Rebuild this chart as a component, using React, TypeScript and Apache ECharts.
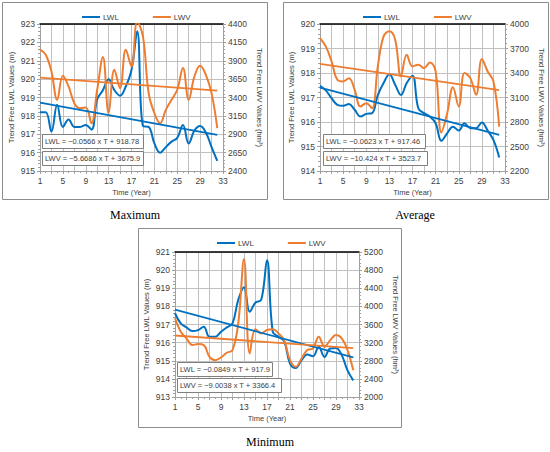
import React, { useEffect, useRef } from "react";
import * as echarts from "echarts";

const years = [1, 2, 3, 4, 5, 6, 7, 8, 9, 10, 11, 12, 13, 14, 15, 16, 17, 18, 19, 20, 21, 22, 23, 24, 25, 26, 27, 28, 29, 30, 31, 32];
const trendYears = [1, 32];

// Maximum
const maxLWL = [918.2, 918.2, 917.15, 918.6, 917.4, 917.8, 917.4, 917.4, 917.5, 917.25, 918.9, 919.4, 920.0, 919.4, 919.1, 919.6, 920.5, 922.6, 917.45, 917.4, 916.5, 916.0, 916.3, 916.6, 916.8, 917.5, 916.5, 917.2, 917.45, 917.1, 916.3, 915.55];
const maxLWV = [4050, 3982, 3755, 3368, 3695, 3550, 3323, 3255, 3264, 3050, 3505, 3950, 3186, 3777, 3527, 4050, 3823, 4430, 4232, 3459, 3186, 3050, 3232, 3368, 3505, 3800, 3368, 3686, 3832, 3709, 3459, 2982];
const maxLWLTrend = [918.72, 916.97];
const maxLWVTrend = [3670, 3494];

// Average
const avgLWL = [917.48, 917.29, 916.97, 916.7, 916.66, 916.73, 916.5, 916.22, 916.33, 916.36, 917.1, 917.59, 917.95, 917.52, 917.1, 917.59, 917.89, 916.56, 916.36, 916.22, 915.95, 915.23, 915.54, 915.81, 915.65, 915.95, 915.75, 915.75, 915.98, 915.65, 915.27, 914.55];
const avgLWV = [3828, 3726, 3542, 3317, 3297, 3337, 3194, 2990, 3031, 2969, 3481, 3849, 3910, 3808, 3358, 3624, 3481, 3501, 3460, 3530, 3419, 2671, 2908, 3227, 2990, 3399, 3337, 3133, 3571, 3419, 3297, 2744];
const avgLWLTrend = [917.4, 915.47];
const avgLWVTrend = [3513, 3190];

// Minimum
const minLWL = [917.62, 917.06, 916.84, 916.64, 916.69, 916.88, 916.32, 916.32, 916.6, 916.84, 917.06, 918.36, 919.06, 917.71, 918.21, 918.36, 920.54, 916.6, 916.32, 916.05, 914.84, 914.6, 915.03, 915.34, 915.25, 915.77, 915.21, 915.68, 915.71, 915.31, 914.47, 913.92];
const minLWV = [3737, 3441, 3293, 3146, 3168, 3146, 2887, 2813, 2872, 2976, 3035, 3626, 5045, 2961, 3493, 3404, 3478, 3493, 3404, 3242, 2813, 2665, 2850, 3035, 3072, 3330, 3109, 3256, 3367, 3293, 3035, 2591];
const minLWLTrend = [917.82, 915.18];
const minLWVTrend = [3357, 3078];

const captions = ["Maximum", "Average", "Minimum"];
const equationsLWL = ["LWL = \u22120.0566 x T + 918.78", "LWL = \u22120.0623 x T + 917.46", "LWL = \u22120.0849 x T + 917.9"];
const equationsLWV = ["LWV = \u22125.6686 x T + 3675.9", "LWV = \u221210.424 x T + 3523.7", "LWV = \u22129.0038 x T + 3366.4"];
const leftRanges = [[915, 923], [914, 920], [913, 921]];
const rightRanges = [[2400, 4400, 250], [2200, 4000, 300], [2000, 5200, 400]];

const BLUE = "#0070C0";
const ORANGE = "#ED7D31";
const FONT = "Liberation Sans";
const TXT = "#404040";
const AXIS = "#a0a0a0";
const GRIDC = "#c0c0c0";

const panels = [
  { lwl: maxLWL, lwv: maxLWV, lt: maxLWLTrend, vt: maxLWVTrend, grid: { left: 40, top: 24, width: 183, height: 147 }, box: [2, 2, 265, 197], cap: [135, 215], legend: [77, 8], eq: [42, 134, 151], eqw: [101, 101] },
  { lwl: avgLWL, lwv: avgLWV, lt: avgLWLTrend, vt: avgLWVTrend, grid: { left: 320, top: 24, width: 185, height: 147 }, box: [283, 2, 265, 197], cap: [415, 215], legend: [358, 8], eq: [323, 134, 151], eqw: [102, 104] },
  { lwl: minLWL, lwv: minLWV, lt: minLWLTrend, vt: minLWVTrend, grid: { left: 175, top: 252, width: 184, height: 145 }, box: [138, 228, 263, 199], cap: [270, 442], legend: [212, 234], eq: [177, 362, 378], eqw: [95, 104] },
];

export default function App() {
  const ref = useRef<HTMLDivElement>(null);
  useEffect(() => {
    document.body.style.margin = "0";
    const chart = echarts.init(ref.current!, null, { renderer: "svg" });
    const grids: any[] = [];
    const xAxes: any[] = [];
    const yAxes: any[] = [];
    const series: any[] = [];
    const legends: any[] = [];
    const graphics: any[] = [];
    panels.forEach((p, i) => {
      grids.push({ ...p.grid, containLabel: false });
      xAxes.push({
        type: "value", gridIndex: i, min: 1, max: 33, interval: 2, position: "bottom",
        name: "Time (Year)", nameLocation: "middle", nameGap: 17,
        nameTextStyle: { fontFamily: FONT, fontSize: 7.5, color: TXT },
        axisLine: { show: true, lineStyle: { color: AXIS, width: 1 } },
        axisTick: { show: true, length: 3, lineStyle: { color: AXIS } },
        minorTick: { show: true, splitNumber: 2, length: 2, lineStyle: { color: AXIS } },
        axisLabel: { fontFamily: FONT, fontSize: 8.5, color: TXT, margin: 5, formatter: (v: number) => ((v - 1) % 4 === 0 ? String(v) : "") },
        splitLine: { show: true, lineStyle: { color: GRIDC, width: 1 } },
      });
      xAxes.push({
        type: "value", gridIndex: i, min: 1, max: 33, position: "top",
        axisLine: { show: true, lineStyle: { color: "#000", width: 1.5 } },
        axisTick: { show: false }, axisLabel: { show: false }, splitLine: { show: false },
      });
      yAxes.push({
        type: "value", gridIndex: i, position: "left", min: leftRanges[i][0], max: leftRanges[i][1], interval: 1,
        name: "Trend Free LWL Values (m)", nameLocation: "middle", nameGap: 25, nameRotate: 90,
        nameTextStyle: { fontFamily: FONT, fontSize: 7.5, color: TXT },
        axisLine: { show: true, lineStyle: { color: AXIS } },
        axisTick: { show: true, length: 3, lineStyle: { color: AXIS } },
        minorTick: { show: true, splitNumber: 5, length: 2, lineStyle: { color: AXIS } },
        axisLabel: { fontFamily: FONT, fontSize: 8.5, color: TXT, margin: 5, formatter: (v: number) => String(v) },
        splitLine: { show: true, lineStyle: { color: GRIDC, width: 1 } },
      });
      yAxes.push({
        type: "value", gridIndex: i, position: "right", min: rightRanges[i][0], max: rightRanges[i][1], interval: rightRanges[i][2],
        name: "Trend Free LWV Values (hm\u00b3)", nameLocation: "middle", nameGap: 32, nameRotate: -90,
        nameTextStyle: { fontFamily: FONT, fontSize: 7.5, color: TXT },
        axisLine: { show: true, lineStyle: { color: AXIS } },
        axisTick: { show: true, length: 3, lineStyle: { color: AXIS } },
        minorTick: { show: true, splitNumber: 5, length: 2, lineStyle: { color: AXIS } },
        axisLabel: { fontFamily: FONT, fontSize: 8.5, color: TXT, margin: 5, formatter: (v: number) => String(v) },
        splitLine: { show: false },
      });
      const base = { type: "line", xAxisIndex: 2 * i, symbol: "none", silent: true };
      series.push({ ...base, name: "LWL", yAxisIndex: 2 * i, smooth: 0.4, data: years.map((y, k) => [y, p.lwl[k]]), lineStyle: { color: BLUE, width: 2 }, itemStyle: { color: BLUE } });
      series.push({ ...base, name: "LWV", yAxisIndex: 2 * i + 1, smooth: 0.4, data: years.map((y, k) => [y, p.lwv[k]]), lineStyle: { color: ORANGE, width: 2 }, itemStyle: { color: ORANGE } });
      series.push({ ...base, name: "LWL trend", yAxisIndex: 2 * i, data: trendYears.map((y, k) => [y, p.lt[k]]), lineStyle: { color: BLUE, width: 1.8 }, itemStyle: { color: BLUE } });
      series.push({ ...base, name: "LWV trend", yAxisIndex: 2 * i + 1, data: trendYears.map((y, k) => [y, p.vt[k]]), lineStyle: { color: ORANGE, width: 1.8 }, itemStyle: { color: ORANGE } });
      legends.push({
        data: ["LWL", "LWV"], left: p.legend[0], top: p.legend[1], icon: "rect", itemWidth: 18, itemHeight: 2, itemGap: 34,
        textStyle: { fontFamily: FONT, fontSize: 8, color: TXT, padding: [0, 0, 0, -2] },
      });
      graphics.push({ type: "rect", shape: { x: p.box[0] + 0.5, y: p.box[1] + 0.5, width: p.box[2], height: p.box[3] }, style: { fill: "none", stroke: "#8c8c8c", lineWidth: 1 }, z: -10 });
      graphics.push({ type: "text", x: p.cap[0], y: p.cap[1], style: { text: captions[i], fontFamily: "Liberation Serif", fontSize: 12, fill: "#000", align: "center", verticalAlign: "middle" } });
      const [ex, ey1, ey2] = p.eq;
      graphics.push({ type: "rect", shape: { x: ex + 0.5, y: ey1 + 0.5, width: p.eqw[0], height: 14 }, style: { fill: "#fff", stroke: "#7f7f7f", lineWidth: 1 }, z: 50 });
      graphics.push({ type: "text", x: ex + 3, y: ey1 + 7.5, style: { text: equationsLWL[i], fontFamily: FONT, fontSize: 7.5, fill: TXT, verticalAlign: "middle" }, z: 51 });
      graphics.push({ type: "rect", shape: { x: ex + 0.5, y: ey2 + 0.5, width: p.eqw[1], height: 14 }, style: { fill: "#fff", stroke: "#7f7f7f", lineWidth: 1 }, z: 50 });
      graphics.push({ type: "text", x: ex + 3, y: ey2 + 7.5, style: { text: equationsLWV[i], fontFamily: FONT, fontSize: 7.5, fill: TXT, verticalAlign: "middle" }, z: 51 });
    });
    chart.setOption({
      animation: false,
      backgroundColor: "#fff",
      grid: grids,
      xAxis: xAxes,
      yAxis: yAxes,
      legend: legends,
      series,
      graphic: graphics,
    });
    return () => chart.dispose();
  }, []);
  return <div ref={ref} style={{ width: 550, height: 452 }} />;
}
